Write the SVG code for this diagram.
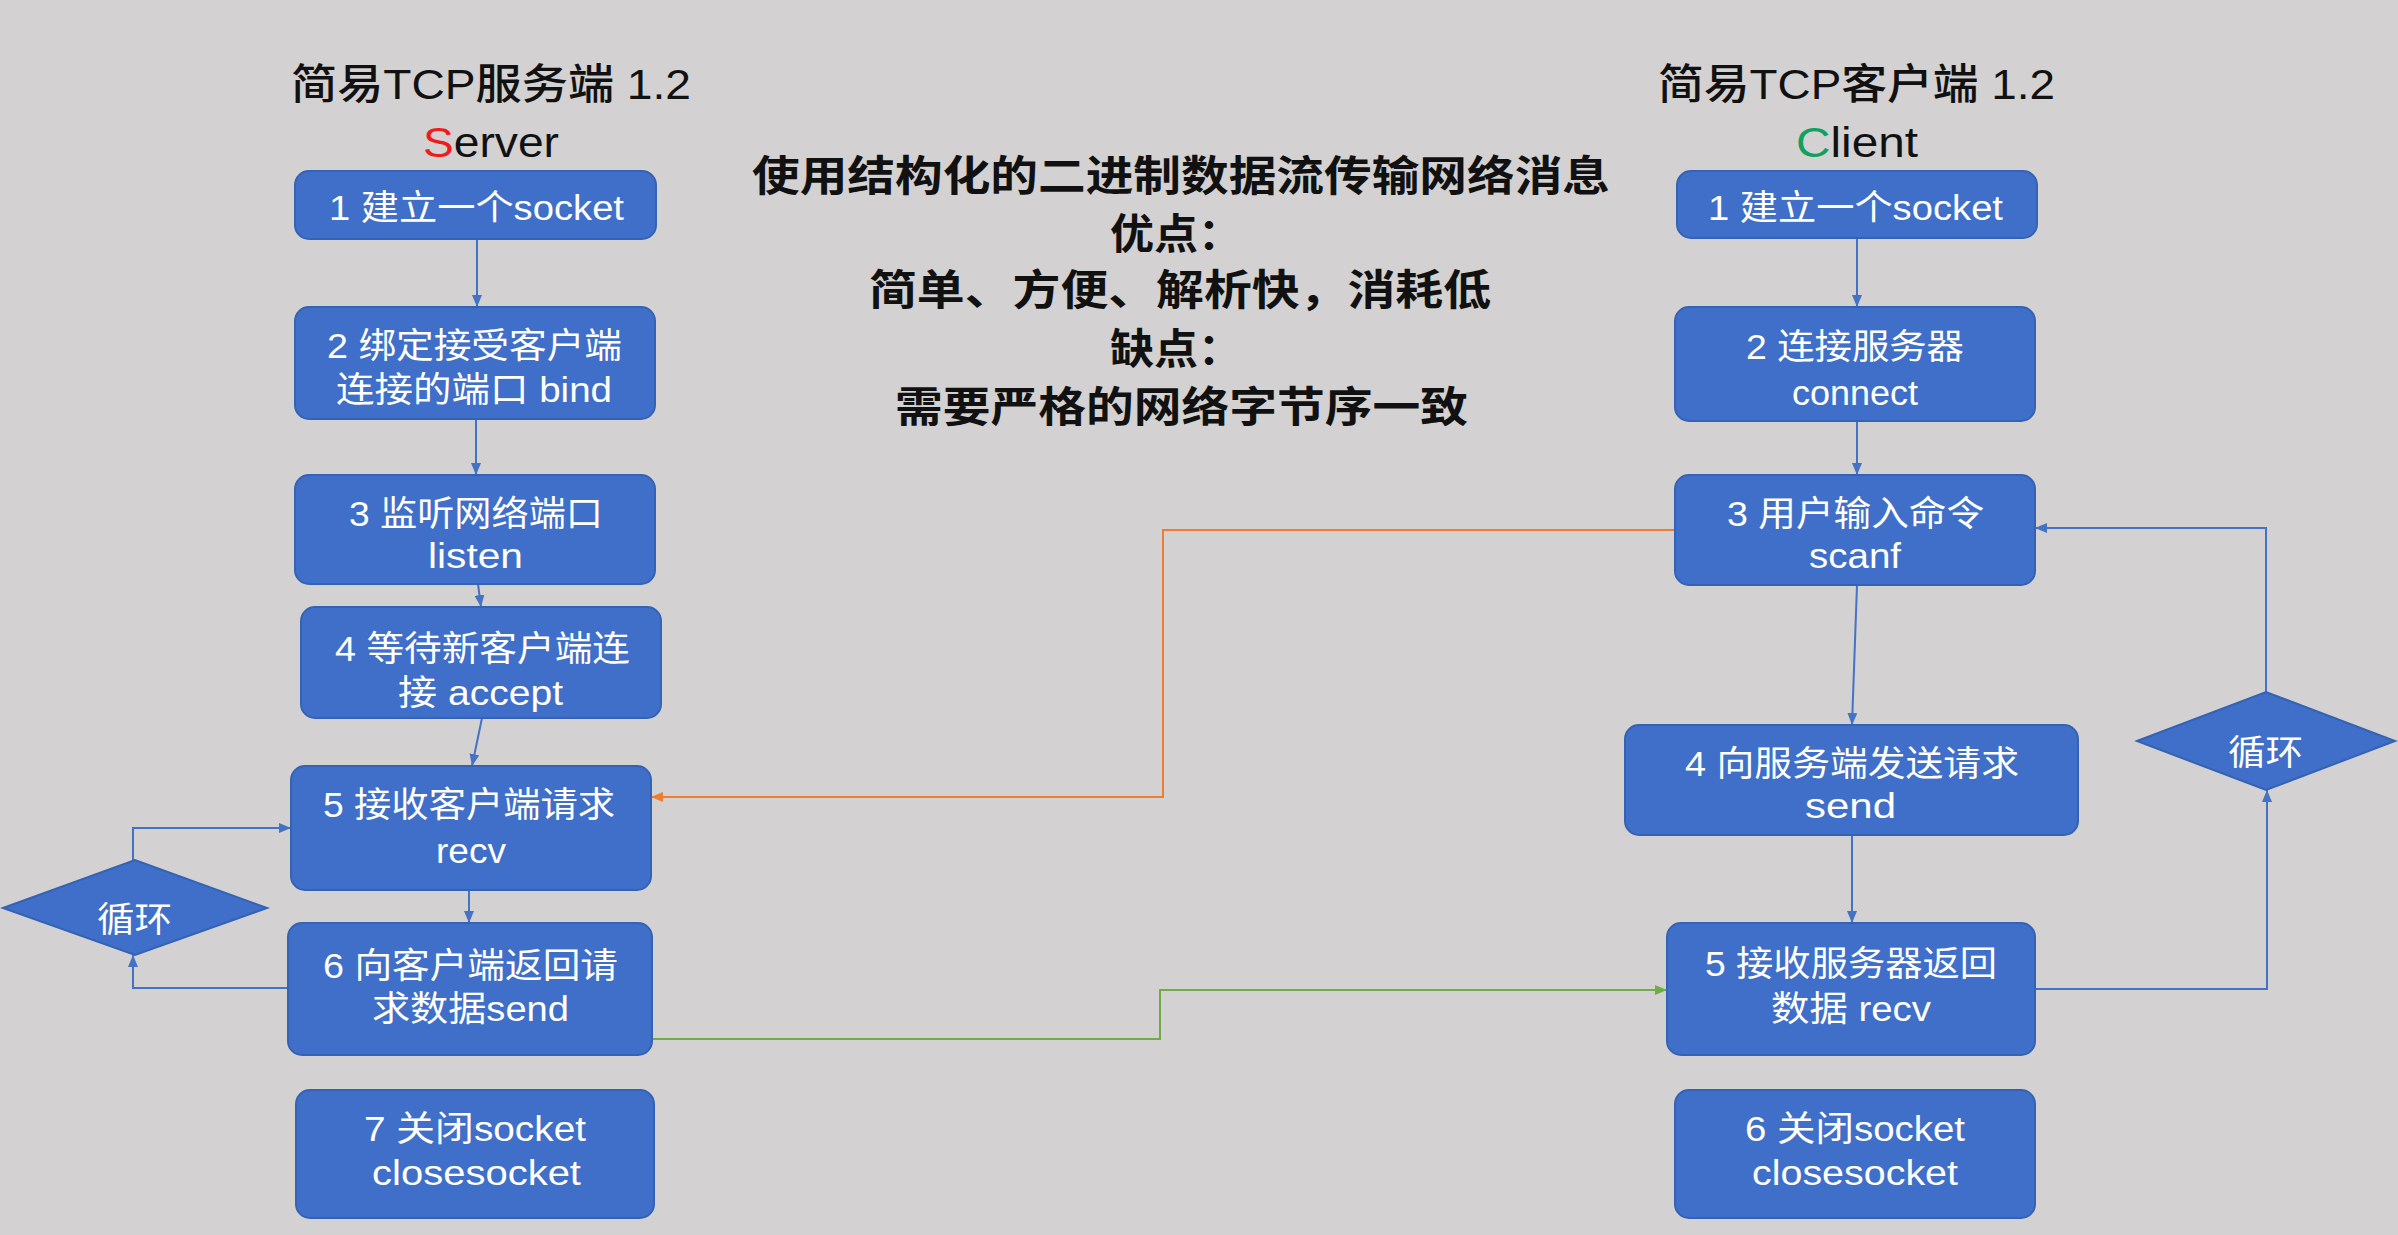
<svg xmlns="http://www.w3.org/2000/svg" width="2398" height="1235" viewBox="0 0 2398 1235">
<defs>
<style>
.box{fill:#3f6fc8;stroke:#3462b4;stroke-width:2}
.bt{font-family:"Liberation Sans","Noto Sans CJK SC",sans-serif;font-size:35px;fill:#ffffff}
.title{font-family:"Liberation Sans","Noto Sans CJK SC",sans-serif;font-size:42px;font-weight:500;fill:#111111}
.ct{font-family:"Liberation Sans","Noto Sans CJK SC",sans-serif;font-size:42px;font-weight:bold;fill:#111111}
.cb{fill:none;stroke:#4472c4;stroke-width:2}
.co{fill:none;stroke:#ed7d31;stroke-width:2}
.cg{fill:none;stroke:#70ad47;stroke-width:2}
</style>
<marker id="ab" viewBox="0 0 12 10" refX="12" refY="5" markerWidth="12" markerHeight="10" markerUnits="userSpaceOnUse" orient="auto"><path d="M0,0 L12,5 L0,10 Z" fill="#4472c4"/></marker>
<marker id="ao" viewBox="0 0 12 10" refX="12" refY="5" markerWidth="12" markerHeight="10" markerUnits="userSpaceOnUse" orient="auto"><path d="M0,0 L12,5 L0,10 Z" fill="#ed7d31"/></marker>
<marker id="ag" viewBox="0 0 12 10" refX="12" refY="5" markerWidth="12" markerHeight="10" markerUnits="userSpaceOnUse" orient="auto"><path d="M0,0 L12,5 L0,10 Z" fill="#70ad47"/></marker>
</defs>
<rect x="0" y="0" width="2398" height="1235" fill="#d3d1d1"/>

<g id="titles">
<text class="title" x="291" y="99" textLength="400" lengthAdjust="spacingAndGlyphs">简易TCP服务端 1.2</text>
<text class="title" x="423" y="157" textLength="136" lengthAdjust="spacingAndGlyphs"><tspan fill="#ee1c1c">S</tspan>erver</text>
<text class="title" x="1658" y="99" textLength="397" lengthAdjust="spacingAndGlyphs">简易TCP客户端 1.2</text>
<text class="title" x="1796" y="157" textLength="122" lengthAdjust="spacingAndGlyphs"><tspan fill="#10a060">C</tspan>lient</text>
</g>

<g id="center-notes">
<text class="ct" x="752" y="191" textLength="858" lengthAdjust="spacingAndGlyphs">使用结构化的二进制数据流传输网络消息</text>
<text class="ct" x="1110" y="249" textLength="132" lengthAdjust="spacingAndGlyphs">优点：</text>
<text class="ct" x="869" y="305" textLength="622" lengthAdjust="spacingAndGlyphs">简单、方便、解析快，消耗低</text>
<text class="ct" x="1110" y="364" textLength="132" lengthAdjust="spacingAndGlyphs">缺点：</text>
<text class="ct" x="895" y="422" textLength="573" lengthAdjust="spacingAndGlyphs">需要严格的网络字节序一致</text>
</g>

<g id="connectors">
<path class="cb" d="M477,239 L477,307" marker-end="url(#ab)"/>
<path class="cb" d="M476,419 L476,475" marker-end="url(#ab)"/>
<path class="cb" d="M478,584 L481,607" marker-end="url(#ab)"/>
<path class="cb" d="M482,718 L472,766" marker-end="url(#ab)"/>
<path class="cb" d="M469,890 L469,923" marker-end="url(#ab)"/>
<path class="cb" d="M288,988 L133,988 L133,955" marker-end="url(#ab)"/>
<path class="cb" d="M133,860 L133,828 L291,828" marker-end="url(#ab)"/>
<path class="co" d="M1675,530 L1163,530 L1163,797 L651,797" marker-end="url(#ao)"/>
<path class="cg" d="M652,1039 L1160,1039 L1160,990 L1667,990" marker-end="url(#ag)"/>
<path class="cb" d="M1857,238 L1857,307" marker-end="url(#ab)"/>
<path class="cb" d="M1857,421 L1857,475" marker-end="url(#ab)"/>
<path class="cb" d="M1857,585 L1852,725" marker-end="url(#ab)"/>
<path class="cb" d="M1852,835 L1852,923" marker-end="url(#ab)"/>
<path class="cb" d="M2035,989 L2267,989 L2267,790" marker-end="url(#ab)"/>
<path class="cb" d="M2266,692 L2266,528 L2035,528" marker-end="url(#ab)"/>
</g>

<g id="s1"><rect class="box" x="295" y="171" width="361" height="68" rx="14"/>
<text class="bt" x="329" y="220" textLength="295" lengthAdjust="spacingAndGlyphs">1 建立一个socket</text></g>
<g id="s2"><rect class="box" x="295" y="307" width="360" height="112" rx="14"/>
<text class="bt"><tspan x="327" y="358" textLength="295" lengthAdjust="spacingAndGlyphs">2 绑定接受客户端</tspan><tspan x="336" y="402" textLength="276" lengthAdjust="spacingAndGlyphs">连接的端口 bind</tspan></text></g>
<g id="s3"><rect class="box" x="295" y="475" width="360" height="109" rx="14"/>
<text class="bt"><tspan x="349" y="526" textLength="254" lengthAdjust="spacingAndGlyphs">3 监听网络端口</tspan><tspan x="428" y="568" textLength="95" lengthAdjust="spacingAndGlyphs">listen</tspan></text></g>
<g id="s4"><rect class="box" x="301" y="607" width="360" height="111" rx="14"/>
<text class="bt"><tspan x="335" y="661" textLength="295" lengthAdjust="spacingAndGlyphs">4 等待新客户端连</tspan><tspan x="398" y="705" textLength="165" lengthAdjust="spacingAndGlyphs">接 accept</tspan></text></g>
<g id="s5"><rect class="box" x="291" y="766" width="360" height="124" rx="14"/>
<text class="bt"><tspan x="323" y="817" textLength="292" lengthAdjust="spacingAndGlyphs">5 接收客户端请求</tspan><tspan x="436" y="863" textLength="70" lengthAdjust="spacingAndGlyphs">recv</tspan></text></g>
<g id="s6"><rect class="box" x="288" y="923" width="364" height="132" rx="14"/>
<text class="bt"><tspan x="323" y="978" textLength="295" lengthAdjust="spacingAndGlyphs">6 向客户端返回请</tspan><tspan x="372" y="1021" textLength="197" lengthAdjust="spacingAndGlyphs">求数据send</tspan></text></g>
<g id="s7"><rect class="box" x="296" y="1090" width="358" height="128" rx="14"/>
<text class="bt"><tspan x="364" y="1141" textLength="222" lengthAdjust="spacingAndGlyphs">7 关闭socket</tspan><tspan x="372" y="1185" textLength="209" lengthAdjust="spacingAndGlyphs">closesocket</tspan></text></g>
<g id="s-loop"><polygon class="box" points="3,908 135,860 267,908 135,955"/>
<text class="bt" x="97" y="932" textLength="75" lengthAdjust="spacingAndGlyphs">循环</text></g>

<g id="c1"><rect class="box" x="1677" y="171" width="360" height="67" rx="14"/>
<text class="bt" x="1708" y="220" textLength="295" lengthAdjust="spacingAndGlyphs">1 建立一个socket</text></g>
<g id="c2"><rect class="box" x="1675" y="307" width="360" height="114" rx="14"/>
<text class="bt"><tspan x="1746" y="359" textLength="218" lengthAdjust="spacingAndGlyphs">2 连接服务器</tspan><tspan x="1792" y="405" textLength="126" lengthAdjust="spacingAndGlyphs">connect</tspan></text></g>
<g id="c3"><rect class="box" x="1675" y="475" width="360" height="110" rx="14"/>
<text class="bt"><tspan x="1727" y="526" textLength="257" lengthAdjust="spacingAndGlyphs">3 用户输入命令</tspan><tspan x="1809" y="568" textLength="92" lengthAdjust="spacingAndGlyphs">scanf</tspan></text></g>
<g id="c4"><rect class="box" x="1625" y="725" width="453" height="110" rx="14"/>
<text class="bt"><tspan x="1685" y="776" textLength="334" lengthAdjust="spacingAndGlyphs">4 向服务端发送请求</tspan><tspan x="1805" y="818" textLength="91" lengthAdjust="spacingAndGlyphs">send</tspan></text></g>
<g id="c5"><rect class="box" x="1667" y="923" width="368" height="132" rx="14"/>
<text class="bt"><tspan x="1705" y="976" textLength="292" lengthAdjust="spacingAndGlyphs">5 接收服务器返回</tspan><tspan x="1771" y="1021" textLength="160" lengthAdjust="spacingAndGlyphs">数据 recv</tspan></text></g>
<g id="c6"><rect class="box" x="1675" y="1090" width="360" height="128" rx="14"/>
<text class="bt"><tspan x="1745" y="1141" textLength="220" lengthAdjust="spacingAndGlyphs">6 关闭socket</tspan><tspan x="1752" y="1185" textLength="206" lengthAdjust="spacingAndGlyphs">closesocket</tspan></text></g>
<g id="c-loop"><polygon class="box" points="2137,741 2266,692 2395,741 2266,790"/>
<text class="bt" x="2228" y="765" textLength="75" lengthAdjust="spacingAndGlyphs">循环</text></g>
</svg>
